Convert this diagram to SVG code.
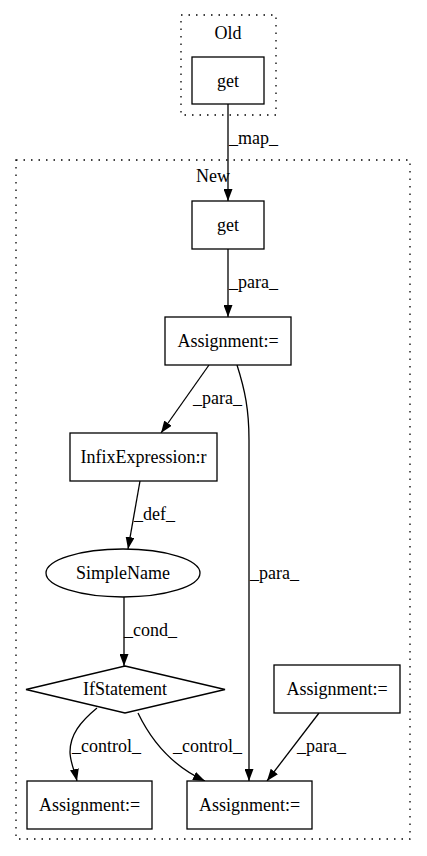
<svg xmlns="http://www.w3.org/2000/svg" width="427" height="856" viewBox="0 0 427 856">
<style>
text{font-family:"Liberation Serif","Times New Roman",serif;font-size:18px;fill:#000}
.n{text-anchor:middle}
.box{fill:#fff;stroke:#000;stroke-width:1.3}
.cl{fill:none;stroke:#000;stroke-width:1.3;stroke-dasharray:1.5,6}
.e{fill:none;stroke:#000;stroke-width:1.3;marker-end:url(#ah)}
</style>
<defs>
<marker id="ah" viewBox="0 0 12 9" refX="12" refY="4.5" markerWidth="12" markerHeight="9" markerUnits="userSpaceOnUse" orient="auto">
<path d="M0,0 L12,4.5 L0,9 z" fill="#000"/>
</marker>
</defs>
<rect width="427" height="856" fill="#fff"/>
<g id="cluster_old">
<rect class="cl" x="181" y="15" width="95" height="100"/>
<text class="n" x="228" y="39">Old</text>
</g>
<g id="cluster_new">
<rect class="cl" x="16" y="160" width="394" height="679"/>
<text class="n" x="213" y="182">New</text>
</g>
<g id="connectors">
<path class="e" d="M228,104 L228,201"/>
<text x="229" y="144">_map_</text>
<path class="e" d="M228,249 L228,317"/>
<text x="229" y="288">_para_</text>
<path class="e" d="M209,365 L161,433"/>
<text x="193" y="404">_para_</text>
<path class="e" d="M237,365 C245,390 249,410 249,440 L249,781"/>
<text x="250" y="579">_para_</text>
<path class="e" d="M140,481 L128,549"/>
<text x="134" y="520">_def_</text>
<path class="e" d="M124,597 L124,666"/>
<text x="124" y="636">_cond_</text>
<path class="e" d="M97,708 C80,722 70,735 70,752 C70,762 75,772 77,781"/>
<text x="72" y="752">_control_</text>
<path class="e" d="M138,713 C150,738 170,765 205,781"/>
<text x="173" y="752">_control_</text>
<path class="e" d="M319,713 L267,781"/>
<text x="297" y="752">_para_</text>
</g>
<g id="old_get">
<rect class="box" x="192" y="57" width="72" height="47"/>
<text class="n" x="228" y="87">get</text>
</g>
<g id="new_get">
<rect class="box" x="192" y="201" width="72" height="48"/>
<text class="n" x="228" y="231">get</text>
</g>
<g id="assign_top">
<rect class="box" x="165" y="317" width="126" height="48"/>
<text class="n" x="228" y="347">Assignment:=</text>
</g>
<g id="infix">
<rect class="box" x="70" y="433" width="147" height="48"/>
<text class="n" x="143.5" y="463">InfixExpression:r</text>
</g>
<g id="simplename">
<ellipse class="box" cx="123" cy="573" rx="77" ry="24"/>
<text class="n" x="123" y="579">SimpleName</text>
</g>
<g id="ifstatement">
<polygon class="box" points="125,666 225,689.5 125,713 26,689.5"/>
<text class="n" x="125" y="695">IfStatement</text>
</g>
<g id="assign_right">
<rect class="box" x="274" y="665" width="126" height="48"/>
<text class="n" x="337" y="695">Assignment:=</text>
</g>
<g id="assign_bl">
<rect class="box" x="27" y="781" width="125" height="48"/>
<text class="n" x="89.5" y="811">Assignment:=</text>
</g>
<g id="assign_bm">
<rect class="box" x="187" y="781" width="125" height="48"/>
<text class="n" x="249.5" y="811">Assignment:=</text>
</g>
</svg>
